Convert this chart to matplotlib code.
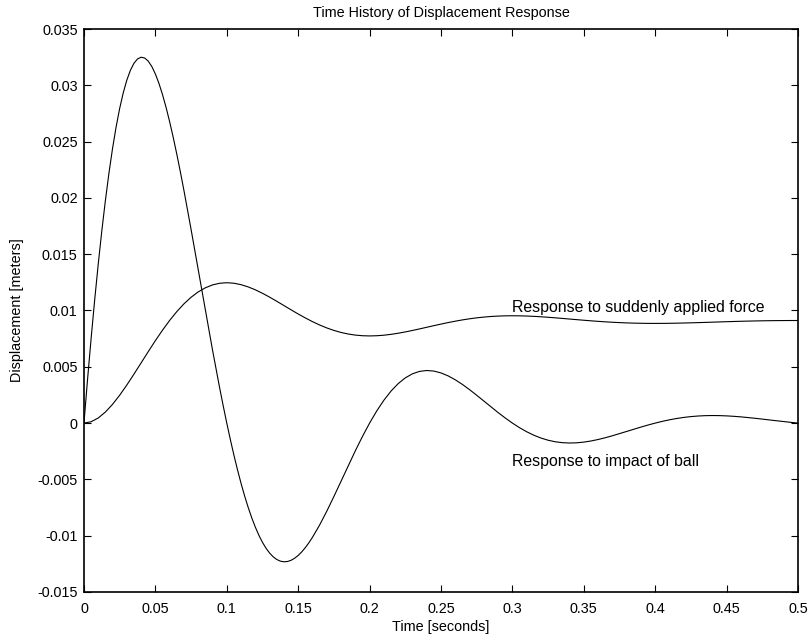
import numpy as np
import matplotlib
matplotlib.use("Agg")
import matplotlib.pyplot as plt
from matplotlib.ticker import FuncFormatter, MultipleLocator

plt.rcParams['font.family'] = ['Liberation Sans', 'DejaVu Sans']
FS = 10.4       # axis text
FS_NOTE = 11.4  # curve annotations

# sample times: 2.5 ms through the first swing of the ball response, 5 ms after
impact_time = np.r_[np.arange(65) * 0.0025, 0.165 + np.arange(68) * 0.005]
step_time = np.arange(101) * 0.005

# displacement [m] after the ball hits
impact = [
    0.0, 0.003857, 0.007505, 0.010932, 0.014124, 0.017072, 0.019767, 0.022205,
    0.024382, 0.026294, 0.027942, 0.029328, 0.030456, 0.031329, 0.031955, 0.032340,
    0.032494, 0.032426, 0.032148, 0.031671, 0.031007, 0.030171, 0.029175, 0.028035,
    0.026763, 0.025375, 0.023886, 0.022310, 0.020662, 0.018955, 0.017203, 0.015422,
    0.013624, 0.011820, 0.010025, 0.008248, 0.006500, 0.004793, 0.003135, 0.001535,
    0.0, -0.001462, -0.002845, -0.004144, -0.005355, -0.006472, -0.007494, -0.008418,
    -0.009242, -0.009967, -0.010593, -0.011118, -0.011546, -0.011876, -0.012114, -0.012260,
    -0.012317, -0.012292, -0.012186, -0.012005, -0.011754, -0.011437, -0.011060, -0.010628,
    -0.010145,
    -0.009054, -0.007832, -0.006522, -0.005164, -0.003800, -0.002464, -0.001188,
    0.0, 0.001078, 0.002030, 0.002841, 0.003504, 0.004016, 0.004377, 0.004592, 0.004670, 0.004619,
    0.004456, 0.004193, 0.003846, 0.003433, 0.002969, 0.002472, 0.001958, 0.001441, 0.000934, 0.000451,
    0.0, -0.000409, -0.000769, -0.001076, -0.001328, -0.001522, -0.001659, -0.001740, -0.001770, -0.001751,
    -0.001689, -0.001589, -0.001458, -0.001301, -0.001125, -0.000937, -0.000742, -0.000546, -0.000354, -0.000171,
    0.0, 0.000155, 0.000292, 0.000408, 0.000504, 0.000577, 0.000629, 0.000660, 0.000671, 0.000664,
    0.000640, 0.000602, 0.000553, 0.000493, 0.000426, 0.000356, 0.000281, 0.000207, 0.000134, 0.000065,
    0.0,
]

# displacement [m] for a step force
step = [
    0.0, 0.000118, 0.000454, 0.000980, 0.001665, 0.002475, 0.003380, 0.004346, 0.005344, 0.006344,
    0.007321, 0.008252, 0.009118, 0.009901, 0.010590, 0.011175, 0.011651, 0.012016, 0.012271, 0.012419,
    0.012467, 0.012422, 0.012295, 0.012095, 0.011836, 0.011528, 0.011186, 0.010819, 0.010441, 0.010062,
    0.009691, 0.009339, 0.009011, 0.008714, 0.008453, 0.008231, 0.008050, 0.007912, 0.007815, 0.007759,
    0.007741, 0.007758, 0.007806, 0.007882, 0.007980, 0.008097, 0.008227, 0.008365, 0.008509, 0.008653,
    0.008793, 0.008927, 0.009051, 0.009164, 0.009263, 0.009347, 0.009415, 0.009468, 0.009504, 0.009526,
    0.009532, 0.009526, 0.009508, 0.009479, 0.009442, 0.009398, 0.009348, 0.009296, 0.009241, 0.009187,
    0.009134, 0.009083, 0.009036, 0.008993, 0.008956, 0.008924, 0.008898, 0.008878, 0.008864, 0.008856,
    0.008853, 0.008856, 0.008863, 0.008874, 0.008888, 0.008905, 0.008923, 0.008943, 0.008964, 0.008984,
    0.009005, 0.009024, 0.009042, 0.009058, 0.009072, 0.009084, 0.009094, 0.009101, 0.009107, 0.009110,
    0.009111,
]

fig = plt.figure(figsize=(8.12, 6.36), dpi=100)
ax = fig.add_axes([0.1034, 0.0692, 0.8794, 0.8852])

ax.plot(impact_time, impact, color='black', lw=0.8)
ax.plot(step_time, step, color='black', lw=0.8)

ax.text(0.3, 0.0103, 'Response to suddenly applied force', fontsize=FS_NOTE, va='center')
ax.text(0.3, -0.0034, 'Response to impact of ball', fontsize=FS_NOTE, va='center')

ax.set_xlim(0, 0.5)
ax.set_ylim(-0.015, 0.035)
ax.xaxis.set_major_locator(MultipleLocator(0.05))
ax.yaxis.set_major_locator(MultipleLocator(0.005))
fmt = FuncFormatter(lambda v, p: '%g' % round(v, 4))
ax.xaxis.set_major_formatter(fmt)
ax.yaxis.set_major_formatter(fmt)
ax.tick_params(direction='in', length=5, width=0.8, top=True, right=True, labelsize=FS)
ax.tick_params(axis='x', pad=7)
ax.tick_params(axis='y', pad=4.5)
for s in ax.spines.values():
    s.set_linewidth(1.2)

ax.set_title('Time History of Displacement Response', fontsize=FS, pad=9)
ax.set_xlabel('Time [seconds]', fontsize=FS, labelpad=3)
ax.set_ylabel('Displacement [meters]', fontsize=FS)
ax.yaxis.set_label_coords(-0.084, 0.5)

fig.savefig('out.png', dpi=100)
